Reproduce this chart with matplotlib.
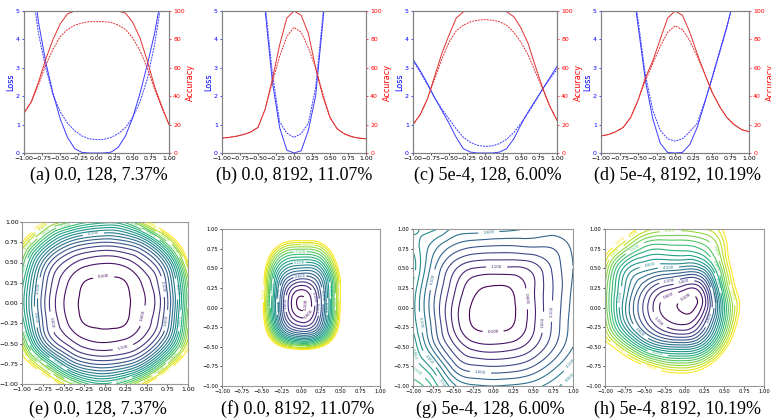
import numpy as np
import matplotlib
matplotlib.use('Agg')
import matplotlib.pyplot as plt
import matplotlib.tri as mtri

# 1D interpolation coordinate (alpha) shared by the top row
alpha = np.linspace(-1, 1, 21)

# (a) wd=0.0, bs=128
train_loss_a = [9.0, 6.6, 4.6, 3.2, 2.1, 1.2, 0.55, 0.15, 0.02, 0.0, 0.0, 0.0, 0.03, 0.2, 0.6, 1.25, 2.1, 3.1, 4.2, 5.6, 7.5]
test_loss_a = [8.0, 6.0, 4.2, 3.0, 2.05, 1.45, 1.05, 0.78, 0.6, 0.5, 0.47, 0.48, 0.55, 0.68, 0.9, 1.25, 1.8, 2.6, 3.8, 5.4, 7.5]
train_acc_a = [28, 36, 50, 66, 80, 91, 98, 100, 100, 100, 100, 100, 100, 100, 98.5, 92, 81, 65, 47, 33, 20]
test_acc_a = [28, 36, 48, 62, 73, 82, 87, 90, 91.5, 92.5, 92.5, 92.5, 92, 90, 87, 81, 72, 60, 45, 32, 20]

# (b) wd=0.0, bs=8192
train_loss_b = [20, 18, 16, 14, 11, 8, 5.0, 2.5, 0.9, 0.1, 0.0, 0.08, 0.8, 2.0, 4.6, 7.5, 10, 13, 15, 17, 19]
test_loss_b = [20, 18, 16, 14, 11, 8.2, 5.2, 2.8, 1.1, 0.7, 0.55, 0.68, 1.05, 2.3, 4.8, 7.6, 10, 13, 15, 17, 19]
train_acc_b = [10.5, 11, 11.8, 13, 14.8, 18, 31, 52, 76, 95, 100, 97, 84, 60, 40, 25, 17, 13.5, 11.5, 10.5, 10]
test_acc_b = [10.5, 11, 11.8, 13, 14.8, 18, 31, 50, 68, 82, 88.5, 85, 74, 60, 42, 25, 17, 13.5, 11.5, 10.5, 10]

# (c) wd=5e-4, bs=128
train_loss_c = [3.3, 2.9, 2.45, 1.95, 1.5, 1.05, 0.55, 0.15, 0.03, 0.0, 0.0, 0.0, 0.03, 0.15, 0.5, 1.0, 1.45, 1.85, 2.25, 2.65, 3.05]
test_loss_c = [3.25, 2.85, 2.4, 1.95, 1.55, 1.2, 0.85, 0.55, 0.37, 0.27, 0.23, 0.25, 0.33, 0.48, 0.72, 1.05, 1.42, 1.82, 2.25, 2.6, 2.95]
train_acc_c = [20, 27, 38, 54, 70, 83, 95, 99.5, 100, 100, 100, 100, 100, 99.5, 96, 88, 77, 61, 46, 33, 23]
test_acc_c = [20, 27, 38, 52, 66, 78, 86, 90, 92.5, 93.5, 94, 93.5, 92.5, 90, 85, 78, 69, 57, 45, 33, 23]

# (d) wd=5e-4, bs=8192
train_loss_d = [16, 13, 10.5, 8.3, 6.4, 4.5, 2.55, 1.2, 0.35, 0.02, 0.0, 0.02, 0.3, 0.9, 1.75, 2.65, 3.55, 4.45, 5.45, 6.6, 7.8]
test_loss_d = [16, 13, 10.5, 8.4, 6.5, 4.7, 2.75, 1.5, 0.8, 0.5, 0.42, 0.5, 0.75, 1.05, 1.8, 2.6, 3.5, 4.4, 5.5, 6.6, 7.8]
train_acc_d = [12, 13, 15, 18, 25, 37, 53, 65, 80, 95, 100, 97, 85, 70, 56, 43, 33, 25, 20, 16.5, 15]
test_acc_d = [12, 13, 15, 18, 25, 37, 51, 63, 75, 85, 89.5, 87, 79, 68, 56, 43, 33, 25, 20, 16.5, 15]

captions_top = ['(a) 0.0, 128, 7.37%', '(b) 0.0, 8192, 11.07%',
                '(c) 5e-4, 128, 6.00%', '(d) 5e-4, 8192, 10.19%']
captions_bottom = ['(e) 0.0, 128, 7.37%', '(f) 0.0, 8192, 11.07%',
                   '(g) 5e-4, 128, 6.00%', '(h) 5e-4, 8192, 10.19%']

ticks_1d = [-1.0, -0.75, -0.5, -0.25, 0.0, 0.25, 0.5, 0.75, 1.0]

# 2D loss surfaces, rows go from top (y max) to bottom (y min)
xs_e = [-1.0, -0.75, -0.5, -0.25, 0.0, 0.25, 0.5, 0.75, 1.0]
ys_e = [1.0, 0.75, 0.5, 0.25, 0.0, -0.25, -0.5, -0.75, -1.0]
loss_e = [
    [14, 9.8, 8.0, 6.8, 6.3, 6.8, 9.6, 12.5, 15],
    [9.6, 6.2, 3.9, 2.9, 2.6, 2.9, 4.2, 7.5, 12],
    [7.6, 3.5, 1.6, 0.85, 0.65, 0.85, 1.7, 4.0, 9.6],
    [6.4, 2.6, 0.82, 0.09, 0.02, 0.09, 0.85, 2.8, 7.8],
    [6.0, 2.35, 0.62, 0.02, 0.0, 0.02, 0.65, 2.5, 7.5],
    [6.6, 2.6, 0.82, 0.09, 0.02, 0.09, 0.85, 2.8, 8.0],
    [8.5, 3.7, 1.7, 0.85, 0.65, 0.85, 1.7, 4.2, 9.0],
    [11, 7.5, 4.4, 2.8, 2.5, 2.9, 4.5, 8.0, 12],
    [15, 12, 9.2, 6.9, 6.2, 7.3, 9.8, 13, 16],
]

xs_f = [-0.6, -0.4, -0.2, 0.0, 0.2, 0.4, 0.6]
ys_f = [1.0, 0.8, 0.6, 0.4, 0.2, 0.0, -0.2, -0.4, -0.6]
loss_f = [
    [20, 17, 13.5, 13, 13.5, 17, 20],
    [18, 12, 9.0, 8.6, 8.8, 11.5, 17],
    [15, 9.0, 6.0, 5.5, 5.8, 8.8, 14],
    [14.5, 7.6, 3.6, 2.6, 3.2, 7.0, 13],
    [14, 7.2, 2.0, 0.4, 1.8, 6.5, 13],
    [14, 7.0, 1.7, 0.0, 1.5, 6.5, 13],
    [14.5, 7.6, 2.6, 1.2, 2.3, 7.0, 13.5],
    [16, 10.0, 6.0, 4.8, 5.6, 9.5, 15],
    [19, 15, 13, 12.5, 13, 15, 18],
]

xs_g = xs_e
ys_g = ys_e
loss_g = [
    [4.4, 4.7, 4.0, 3.9, 3.8, 3.7, 3.5, 3.4, 3.4],
    [5.0, 3.8, 2.9, 2.5, 2.4, 2.4, 2.5, 2.6, 3.2],
    [5.4, 3.3, 1.8, 1.1, 1.0, 1.0, 1.3, 2.2, 3.1],
    [5.0, 2.9, 1.3, 0.25, 0.06, 0.15, 1.0, 2.1, 3.2],
    [4.8, 2.7, 1.0, 0.05, 0.0, 0.05, 0.95, 2.15, 3.3],
    [5.0, 2.9, 1.1, 0.1, 0.02, 0.12, 1.0, 2.2, 3.4],
    [5.6, 3.4, 1.8, 0.9, 0.75, 0.9, 1.5, 2.5, 3.6],
    [6.0, 4.8, 2.9, 2.2, 2.1, 2.2, 2.6, 3.4, 4.3],
    [7.0, 6.0, 4.3, 3.7, 3.6, 3.7, 3.9, 4.4, 5.0],
]

xs_h = xs_e
ys_h = ys_e
loss_h = [
    [14, 11, 9.0, 8.4, 8.3, 8.6, 9.8, 14, 18],
    [10.5, 8.0, 6.4, 6.2, 6.3, 6.8, 9.0, 13, 17],
    [8.8, 5.4, 4.4, 4.0, 3.8, 4.4, 8.2, 12, 16],
    [8.0, 4.6, 2.6, 1.4, 0.8, 1.6, 7.0, 11, 15],
    [8.0, 4.2, 1.9, 0.35, 0.0, 1.0, 6.0, 10.5, 15],
    [8.6, 5.0, 2.6, 1.2, 0.8, 2.4, 6.8, 11.5, 16],
    [10.5, 8.0, 5.5, 4.2, 4.0, 5.2, 9.0, 13, 17],
    [14, 11.5, 9.8, 8.6, 8.3, 9.3, 12, 15, 18],
    [17, 15, 13, 12, 12, 13, 15, 17, 20],
]

levels = np.arange(0.1, 10, 0.5)

W, H = 771, 418
fig = plt.figure(figsize=(W / 100, H / 100), dpi=100)


def box(x0, x1, y0, y1):
    # pixel box -> figure fraction
    return [x0 / W, 1 - y1 / H, (x1 - x0) / W, (y1 - y0) / H]


top_boxes = [(24, 169, 11, 153), (222, 366, 11, 153),
             (413, 557, 11, 153), (601, 749, 11, 153)]
top_caps_x = [99, 294, 488, 677]
top_data = [
    (train_loss_a, test_loss_a, train_acc_a, test_acc_a),
    (train_loss_b, test_loss_b, train_acc_b, test_acc_b),
    (train_loss_c, test_loss_c, train_acc_c, test_acc_c),
    (train_loss_d, test_loss_d, train_acc_d, test_acc_d),
]

for b, cx, cap, (trl, tel, tra, tea) in zip(top_boxes, top_caps_x, captions_top, top_data):
    ax1 = fig.add_axes(box(*b))
    ax1.plot(alpha, trl, color='#3a3aff', lw=0.7)
    ax1.plot(alpha, tel, color='#3a3aff', lw=0.7, ls=(0, (2, 1)))
    ax1.set_xlim(-1, 1)
    ax1.set_ylim(0, 5)
    ax1.set_xticks(ticks_1d)
    ax1.set_yticks([0, 1, 2, 3, 4, 5])
    ax1.set_ylabel('Loss', color='b', fontsize=5.8, labelpad=0.5)
    ax1.tick_params(axis='x', labelsize=4.5, length=1.5, width=0.5, pad=1)
    ax1.tick_params(axis='y', labelsize=4.5, length=1.5, width=0.5, pad=1.5, colors='b')
    ax2 = ax1.twinx()
    ax2.plot(alpha, tra, color='#e03030', lw=0.7)
    ax2.plot(alpha, tea, color='#e03030', lw=0.7, ls=(0, (2, 1)))
    ax2.set_ylim(0, 100)
    ax2.set_yticks([0, 20, 40, 60, 80, 100])
    ax2.set_ylabel('Accuracy', color='r', fontsize=5.8, labelpad=0.5)
    ax2.tick_params(axis='y', labelsize=4.5, length=1.5, width=0.5, pad=1.5, colors='r')
    for a in (ax1, ax2):
        for s in a.spines.values():
            s.set_color('0.5')
            s.set_linewidth(0.8)
    fig.text(cx / W, 1 - 175 / H, cap, ha='center', va='center',
             fontsize=13, family='Liberation Serif')

bottom_boxes = [(22, 188, 222, 384), (222, 380, 229, 386),
                (413, 573, 229, 386), (605, 764, 229, 386)]
bottom_caps_x = [98, 298, 490, 678]
surfaces = [(xs_e, ys_e, loss_e), (xs_f, ys_f, loss_f),
            (xs_g, ys_g, loss_g), (xs_h, ys_h, loss_h)]
tick_sizes = [4.5, 3.8, 3.8, 3.8]

for b, cx, cap, (gx, gy, gz), ts in zip(bottom_boxes, bottom_caps_x, captions_bottom,
                                        surfaces, tick_sizes):
    ax = fig.add_axes(box(*b))
    X, Y = np.meshgrid(gx, gy)
    tri = mtri.Triangulation(X.ravel(), Y.ravel())
    refiner = mtri.UniformTriRefiner(tri)
    tri_f, z_f = refiner.refine_field(np.array(gz, dtype=float).ravel(), subdiv=4)
    cs = ax.tricontour(tri_f, z_f, levels=levels, cmap='viridis', linewidths=0.8)
    ax.clabel(cs, inline=1, fontsize=2.8, fmt='%1.3f')
    ax.set_xlim(-1, 1)
    ax.set_ylim(-1, 1)
    ax.set_xticks(ticks_1d)
    ax.set_yticks(ticks_1d)
    ax.tick_params(labelsize=ts, length=1.5, width=0.5, pad=1)
    for s in ax.spines.values():
        s.set_color('0.6')
        s.set_linewidth(0.8)
    fig.text(cx / W, 1 - 409 / H, cap, ha='center', va='center',
             fontsize=13, family='Liberation Serif')

fig.savefig('out.png', dpi=100)
